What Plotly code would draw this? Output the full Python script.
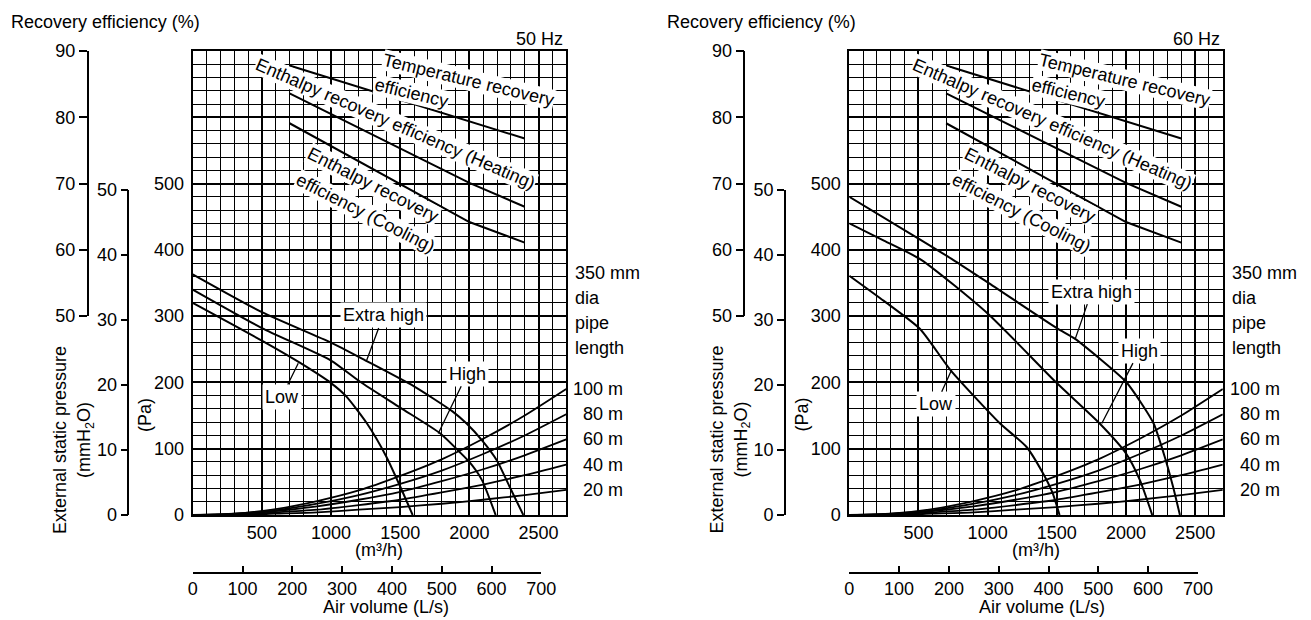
import plotly.graph_objects as go

# ---------------- data ----------------
flow_eff = [700, 1500, 2000, 2400]
eff_temperature = [87.8, 82.6, 79.4, 76.8]
eff_heating = [83.6, 75.3, 70.1, 66.5]
eff_cooling = [79.1, 70.0, 64.2, 61.1]

flow_pipe = [0, 300, 600, 900, 1200, 1500, 1800, 2100, 2400, 2700]
pipe_100 = [0, 2, 9, 21, 37, 59, 84, 115, 150, 190]
pipe_80 = [0, 2, 7, 17, 30, 47, 67, 92, 120, 152]
pipe_60 = [0, 1, 6, 13, 23, 35, 51, 69, 90, 114]
pipe_40 = [0, 1, 4, 8, 15, 23, 34, 46, 60, 76]
pipe_20 = [0, 0, 2, 4, 8, 12, 17, 23, 30, 38]
pipe_labels = ["100 m", "80 m", "60 m", "40 m", "20 m"]
pipe_group_label = ["350 mm", "dia", "pipe", "length"]

# 50 Hz fan curves (m3/h, Pa)
flow_xhigh_50 = [0, 500, 1000, 1250, 1600, 1880, 1980, 2090, 2200, 2290, 2390]
pa_xhigh_50 = [363, 306, 260, 233, 194, 156, 138, 113, 82, 43, 0]
flow_high_50 = [0, 500, 1000, 1210, 1500, 1790, 1930, 2000, 2090, 2190]
pa_high_50 = [340, 282, 233, 201, 162, 123, 95, 80, 53, 0]
flow_low_50 = [0, 500, 780, 1000, 1110, 1260, 1400, 1500, 1590]
pa_low_50 = [320, 263, 229, 199, 179, 138, 88, 43, 0]

# 60 Hz fan curves (m3/h, Pa)
flow_xhigh_60 = [0, 500, 750, 1000, 1500, 1630, 2000, 2110, 2200, 2280, 2340, 2390]
pa_xhigh_60 = [480, 417, 385, 351, 282, 266, 201, 169, 138, 88, 43, 0]
flow_high_60 = [0, 250, 520, 1000, 1500, 1810, 2000, 2100, 2190]
pa_high_60 = [440, 414, 385, 304, 199, 138, 93, 53, 0]
flow_low_60 = [0, 250, 510, 730, 1090, 1280, 1400, 1470, 1520]
pa_low_60 = [361, 323, 281, 219, 138, 103, 63, 33, 0]

m3h_ticks = [500, 1000, 1500, 2000, 2500]
pa_ticks = [0, 100, 200, 300, 400, 500]
eff_ticks = [50, 60, 70, 80, 90]
mm_ticks = [0, 10, 20, 30, 40, 50]
ls_ticks = [0, 100, 200, 300, 400, 500, 600, 700]
freq_labels = ["50 Hz", "60 Hz"]

# ---------------- geometry ----------------
W, H = 1311, 620
FONT = "Liberation Sans, Arial, sans-serif"
FS = 18
PLOT_LEFT = [192.7, 849.3]
PLOT_W = 373.5
PLOT_TOP, PLOT_BOTTOM = 51.0, 515.0
PA_MAX = 700
M3H_MAX = 2700
MAJOR_W = 1.7


def fx(px):
    return px / W


def fy(py):
    return 1 - py / H


def pa_to_py(pa):
    return PLOT_BOTTOM - pa / PA_MAX * (PLOT_BOTTOM - PLOT_TOP)


fig = go.Figure()
annotations = []
layout = {}

panels = [
    dict(x="x", y="y", xe="x", ye="y3", ymm="y4", xls="x3",
         curves=[(flow_xhigh_50, pa_xhigh_50), (flow_high_50, pa_high_50), (flow_low_50, pa_low_50)],
         lab=[("Extra high", 1257, 233, 1378, 301), ("High", 1775, 123, 1985, 213), ("Low", 763, 229, 643, 178)]),
    dict(x="x2", y="y2", xe="x2", ye="y5", ymm="y6", xls="x4",
         curves=[(flow_xhigh_60, pa_xhigh_60), (flow_high_60, pa_high_60), (flow_low_60, pa_low_60)],
         lab=[("Extra high", 1632, 265, 1752, 337), ("High", 1825, 138, 2097, 248), ("Low", 740, 219, 627, 167)]),
]

pipes = [pipe_100, pipe_80, pipe_60, pipe_40, pipe_20]

# efficiency label pieces: (text, m3/h, %, angle)
eff_label_parts = [
    ("Temperature recovery", 1992, 85.6, 13.5),
    ("efficiency", 1583, 83.6, 13.5),
    ("Enthalpy recovery efficiency (Heating)", 1468, 79.0, 23.5),
    ("Enthalpy recovery", 1306, 69.8, 27),
    ("efficiency (Cooling)", 1246, 65.5, 27),
]


def axname(a):
    return a[0] + "axis" + a[1:]


common = dict(automargin=False, zeroline=False, fixedrange=True, linecolor="black")

for i, p in enumerate(panels):
    L = PLOT_LEFT[i]
    R = L + PLOT_W
    xdom = [fx(L), fx(R)]
    ydom = [fy(PLOT_BOTTOM), fy(PLOT_TOP)]
    tickfont = dict(family=FONT, size=FS, color="black")

    layout[axname(p["x"])] = dict(
        domain=xdom, range=[0, M3H_MAX], anchor=p["y"], tickvals=m3h_ticks, ticks="",
        showgrid=True, gridcolor="black", gridwidth=MAJOR_W,
        minor=dict(dtick=100, tick0=0, showgrid=True, gridcolor="black", gridwidth=1),
        showline=True, linewidth=2, mirror=True, tickfont=tickfont, **common)
    layout[axname(p["y"])] = dict(
        domain=ydom, range=[0, PA_MAX], anchor=p["x"], tickvals=pa_ticks,
        ticks="", ticklabelstandoff=3,
        showgrid=True, gridcolor="black", gridwidth=MAJOR_W,
        minor=dict(dtick=20, tick0=0, showgrid=True, gridcolor="black", gridwidth=1),
        showline=True, linewidth=2, mirror=True, tickfont=tickfont, **common)
    # recovery efficiency axis (50-90 % aligned with 300-700 Pa); its grid gives the heavy lines up top
    layout[axname(p["ye"])] = dict(
        domain=[fy(pa_to_py(300)), fy(pa_to_py(700))], range=[50, 90], anchor="free",
        position=fx(L - 105), tickvals=eff_ticks, ticks="outside", ticklen=8, tickwidth=1.5,
        tickcolor="black", showline=True, linewidth=1.5,
        showgrid=True, gridcolor="black", gridwidth=MAJOR_W, tickfont=tickfont, **common)
    # mmH2O axis
    layout[axname(p["ymm"])] = dict(
        domain=[fy(PLOT_BOTTOM), fy(pa_to_py(50 * 9.80665))], range=[0, 50], anchor="free",
        position=fx(L - 64.4), tickvals=mm_ticks, ticks="outside", ticklen=7, tickwidth=1.5,
        tickcolor="black", showline=True, linewidth=1.5, showgrid=False, tickfont=tickfont, **common)
    # L/s axis
    layout[axname(p["xls"])] = dict(
        domain=[fx(L), fx(L + PLOT_W * 2520 / M3H_MAX)], range=[0, 700], anchor="free",
        position=fy(573), side="bottom", tickvals=ls_ticks, ticks="inside", ticklen=6, tickwidth=1.5,
        tickcolor="black", showline=True, linewidth=1.5, showgrid=False, tickfont=tickfont, **common)

    # placeholder traces so the free axes get drawn
    fig.add_trace(go.Scatter(x=[None], y=[None], xaxis=p["xls"], yaxis=p["ymm"],
                             showlegend=False, hoverinfo="skip"))

    # efficiency lines
    for ev in (eff_temperature, eff_heating, eff_cooling):
        fig.add_trace(go.Scatter(x=flow_eff, y=ev, xaxis=p["xe"], yaxis=p["ye"], mode="lines",
                                 line=dict(color="black", width=2), showlegend=False, hoverinfo="skip"))
    # pipe resistance curves
    for pv in pipes:
        fig.add_trace(go.Scatter(x=flow_pipe, y=pv, xaxis=p["x"], yaxis=p["y"], mode="lines",
                                 line=dict(color="black", width=1.8, shape="spline", smoothing=0.6),
                                 showlegend=False, hoverinfo="skip"))
    # fan curves
    for fxv, pav in p["curves"]:
        fig.add_trace(go.Scatter(x=fxv, y=pav, xaxis=p["x"], yaxis=p["y"], mode="lines",
                                 line=dict(color="black", width=2, shape="spline", smoothing=0.6),
                                 showlegend=False, hoverinfo="skip"))

    txt = dict(family=FONT, size=FS, color="black")
    # fan curve labels with leader lines
    for (t, hx, hy, tx, ty) in p["lab"]:
        annotations.append(dict(text=t, x=hx, y=hy, xref=p["x"], yref=p["y"], ax=tx, ay=ty,
                                axref=p["x"], ayref=p["y"], showarrow=True, arrowhead=0,
                                arrowwidth=1.3, arrowcolor="black", bgcolor="white",
                                borderpad=2, font=txt))
    # efficiency labels
    for (t, ex, ey, ang) in eff_label_parts:
        annotations.append(dict(text=t, x=ex, y=ey, xref=p["xe"], yref=p["ye"], showarrow=False,
                                textangle=ang, bgcolor="white", borderpad=0, font=txt))
    # pipe length labels
    for lab, pv in zip(pipe_labels, pipes):
        annotations.append(dict(text=lab, x=fx(R + 59), y=pv[-1], xref="paper", yref=p["y"],
                                xanchor="right", yanchor="middle", showarrow=False, font=txt))
    for k, lab in enumerate(pipe_group_label):
        annotations.append(dict(text=lab, x=fx(R + 7), y=fy(272.7 + 25.2 * k), xref="paper",
                                yref="paper", xanchor="left", yanchor="middle", showarrow=False,
                                font=txt))
    # titles
    annotations += [
        dict(text="Recovery efficiency (%)", x=fx(L - 184), y=fy(22), xanchor="left"),
        dict(text=freq_labels[i], x=fx(R - 1), y=fy(39), xanchor="right"),
        dict(text="External static pressure", x=fx(L - 132.7), y=fy(440), textangle=-90),
        dict(text="(mmH<sub>2</sub>O)", x=fx(L - 107.7), y=fy(440), textangle=-90),
        dict(text="(Pa)", x=fx(L - 47.7), y=fy(415), textangle=-90),
        dict(text="(m³/h)", x=fx(L + PLOT_W / 2), y=fy(550)),
        dict(text="Air volume (L/s)", x=fx(L + 192.8), y=fy(607)),
    ]

for a in annotations:
    a.setdefault("xref", "paper")
    a.setdefault("yref", "paper")
    a.setdefault("showarrow", False)
    a.setdefault("font", dict(family=FONT, size=FS, color="black"))
    a.setdefault("yanchor", "middle")
    a.setdefault("xanchor", "center")

fig.update_layout(
    template="none",
    width=W, height=H, autosize=False,
    margin=dict(l=0, r=0, t=0, b=0, pad=0, autoexpand=False),
    paper_bgcolor="white", plot_bgcolor="rgba(0,0,0,0)",
    showlegend=False,
    font=dict(family=FONT, size=FS, color="black"),
    annotations=annotations,
    **layout,
)

fig.write_html(
    "out.html",
    post_script="document.body.style.margin='0';document.body.style.overflow='hidden';",
)
